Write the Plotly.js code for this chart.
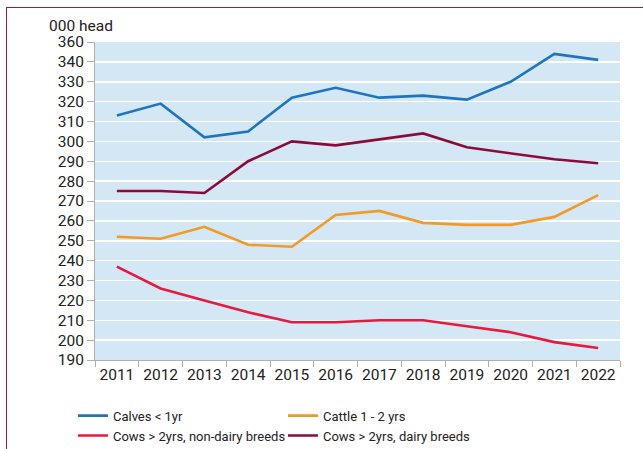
<!DOCTYPE html>
<html>
<head>
<meta charset="utf-8">
<script src="https://cdn.plot.ly/plotly-3.0.1.min.js"></script>
<style>
html,body{margin:0;padding:0;background:#fff;overflow:hidden;}
#frame{position:absolute;left:6px;top:7px;width:700px;height:500px;border:1.5px solid #9b1b4b;box-sizing:border-box;}
#chart{position:absolute;left:0;top:0;width:643px;height:449px;}
</style>
</head>
<body>
<div id="frame"></div>
<div id="chart"></div>
<script>
var years = ["2011","2012","2013","2014","2015","2016","2017","2018","2019","2020","2021","2022"];
var calves = [313,319,302,305,322,327,322,323,321,330,344,341];
var cattle12 = [252,251,257,248,247,263,265,259,258,258,262,273];
var cowsNonDairy = [237,226,220,214,209,209,210,210,207,204,199,196];
var cowsDairy = [275,275,274,290,300,298,301,304,297,294,291,289];
var yTickVals = [190,200,210,220,230,240,250,260,270,280,290,300,310,320,330,340,350];
var yTickText = ["190","200","210","220","230","240","250","260","270","280","290","300","310","320","330","340","360"];

var font = "Roboto, sans-serif";
function tr(name, y, color){
  return {x: years, y: y, name: name, type: "scatter", mode: "lines",
          line: {color: color, width: 2.6}};
}
var data = [
  tr("Calves < 1yr", calves, "#1f74bd"),
  tr("Cattle 1 - 2 yrs", cattle12, "#f29a24"),
  tr("Cows > 2yrs, non-dairy breeds", cowsNonDairy, "#e8183f"),
  tr("Cows > 2yrs, dairy breeds", cowsDairy, "#8c0a3b")
];
var layout = {
  width: 643, height: 449,
  margin: {l: 95, r: 23, t: 42, b: 89, autoexpand: false},
  paper_bgcolor: "rgba(0,0,0,0)",
  plot_bgcolor: "#d4e7f5",
  font: {family: font, size: 15, color: "#222"},
  xaxis: {
    type: "category", range: [-0.5, 11.5], automargin: false, tickangle: 0,
    showgrid: false, zeroline: false,
    showline: true, linecolor: "#b0b0b0", linewidth: 1,
    ticks: "outside", tickson: "boundaries", ticklen: 6, tickcolor: "#b0b0b0",
    tickfont: {family: font, size: 15.5, color: "#222"}
  },
  yaxis: {
    range: [190, 350], tickvals: yTickVals, ticktext: yTickText, automargin: false,
    showgrid: true, gridcolor: "#ffffff", gridwidth: 1.5, zeroline: false,
    showline: true, linecolor: "#b0b0b0", linewidth: 1,
    ticks: "outside", ticklen: 7, tickcolor: "#b0b0b0",
    tickfont: {family: font, size: 15.5, color: "#222"}
  },
  showlegend: true,
  legend: {
    orientation: "h", x: -0.042, xanchor: "left",
    y: -0.128, yanchor: "top",
    entrywidth: 165, entrywidthmode: "pixels",
    font: {family: font, size: 13, color: "#222"},
    tracegroupgap: 0, itemwidth: 30, bgcolor: "rgba(0,0,0,0)"
  },
  annotations: [{
    text: "000 head", xref: "paper", yref: "paper",
    x: -48/525, xanchor: "left", y: 1, yanchor: "bottom", yshift: 5,
    showarrow: false, font: {family: font, size: 15.5, color: "#222"}
  }]
};
Plotly.newPlot("chart", data, layout, {displayModeBar: false, staticPlot: true});
</script>
</body>
</html>
